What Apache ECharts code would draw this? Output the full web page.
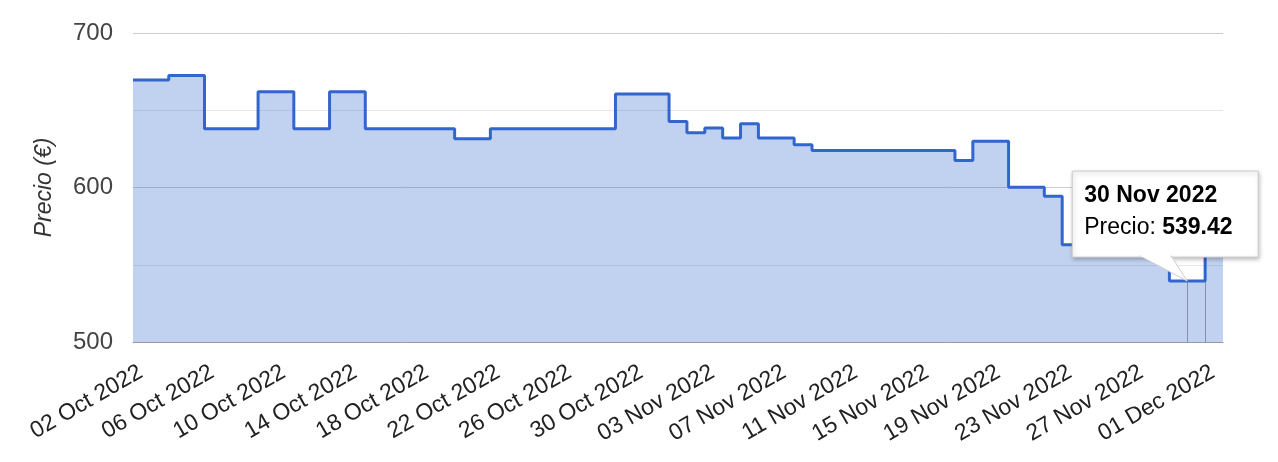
<!DOCTYPE html>
<html>
<head>
<meta charset="utf-8">
<script src="https://cdn.jsdelivr.net/npm/echarts@6/dist/echarts.min.js"></script>
<style>
html,body{margin:0;padding:0;background:#fff;}
#chart{width:1278px;height:462px;}
</style>
</head>
<body>
<div id="chart"></div>
<script>
// Step-change dates (price holds from this date until the next one)
const changeDates = ['2022-10-02','2022-10-04','2022-10-06','2022-10-09','2022-10-11','2022-10-13','2022-10-15',
  '2022-10-20','2022-10-22','2022-10-29','2022-11-01','2022-11-02','2022-11-03','2022-11-04','2022-11-05',
  '2022-11-06','2022-11-08','2022-11-09','2022-11-17','2022-11-18','2022-11-20','2022-11-22','2022-11-23',
  '2022-11-29','2022-12-01','2022-12-02'];
const prices = [669.5,672.5,638,662,638,662,638,
  631.5,638,660.5,642.7,635.5,638.5,632,641.3,
  632,627.7,624,617.5,630,600.2,594.4,563,
  539.42,559,559];
const tickLabels = ['02 Oct 2022','06 Oct 2022','10 Oct 2022','14 Oct 2022','18 Oct 2022','22 Oct 2022',
  '26 Oct 2022','30 Oct 2022','03 Nov 2022','07 Nov 2022','11 Nov 2022','15 Nov 2022','19 Nov 2022',
  '23 Nov 2022','27 Nov 2022','01 Dec 2022'];
const yTickLabels = {500:'500',600:'600',700:'700'};
const startDate = '2022-10-02';
const endDate = '2022-12-02';
const tipDate = '2022-11-30';
const tipNext = '2022-12-01';
const tipTitle = '30 Nov 2022';
const tipLabel = 'Precio: ';
const tipValue = 539.42;
const tipNextValue = 559;

const DAY = 86400000;
const dayOf = s => Math.round((Date.parse(s + 'T00:00:00Z') - Date.parse(startDate + 'T00:00:00Z')) / DAY);
const data = changeDates.map((d, i) => [dayOf(d), prices[i]]);
const FONT = '"Liberation Sans", Arial, Helvetica, sans-serif';

const chart = echarts.init(document.getElementById('chart'), null, {renderer: 'canvas'});
chart.setOption({
  animation: false,
  grid: {left: 133, right: 55, top: 33, bottom: 120},
  xAxis: {
    type: 'value', min: 0, max: dayOf(endDate), interval: 4,
    axisLine: {show: true, lineStyle: {color: '#9a9a9a', width: 1}},
    axisTick: {show: false},
    splitLine: {show: false},
    axisLabel: {
      rotate: 30, margin: 33, padding: [0, -9, 0, 0],
      color: '#222', fontSize: 23, fontFamily: FONT,
      showMaxLabel: false,
      formatter: v => (v % 4 === 0 && tickLabels[v / 4]) ? tickLabels[v / 4] : ''
    }
  },
  yAxis: {
    type: 'value', min: 500, max: 700, interval: 50,
    name: 'Precio (€)', nameLocation: 'middle', nameGap: 77,
    nameTextStyle: {fontStyle: 'italic', fontSize: 23, color: '#333', fontFamily: FONT},
    axisLine: {show: false}, axisTick: {show: false},
    axisLabel: {
      margin: 20, color: '#444', fontSize: 24, fontFamily: FONT,
      formatter: v => yTickLabels[v] || ''
    },
    splitLine: {lineStyle: {color: ['#cccccc', '#e6e6e6'], width: 1}}
  },
  series: [{
    type: 'line', step: 'end', data: data, symbol: 'none',
    lineStyle: {color: '#3366cc', width: 3},
    areaStyle: {color: '#3366cc', opacity: 0.3},
    markLine: {
      silent: true, symbol: 'none', label: {show: false},
      lineStyle: {color: 'rgba(90,90,110,0.55)', width: 1, type: 'solid'},
      data: [
        [{coord: [dayOf(tipDate), 500]}, {coord: [dayOf(tipDate), tipValue]}],
        [{coord: [dayOf(tipNext), 500]}, {coord: [dayOf(tipNext), tipNextValue]}]
      ]
    },
    z: 2
  }]
});

// Tooltip callout anchored at the hovered point (position from the chart's own scales)
const pt = chart.convertToPixel({gridIndex: 0}, [dayOf(tipDate), tipValue]);
const bx = pt[0] - 115, by = pt[1] - 110, bw = 186, bh = 86;
chart.setOption({
  graphic: [{
    type: 'group', z: 100, zlevel: 1,
    children: [
      {type: 'rect', z: 100, zlevel: 1, shape: {x: bx, y: by, width: bw, height: bh},
        style: {fill: '#fff', stroke: '#cccccc', lineWidth: 1,
          shadowBlur: 4, shadowOffsetX: 1, shadowOffsetY: 2, shadowColor: 'rgba(0,0,0,0.25)'}},
      {type: 'polygon', z: 101, zlevel: 1, shape: {points: [[pt[0] - 47, by + bh - 1], [pt[0] - 16, by + bh - 1], [pt[0], pt[1]]]},
        style: {fill: '#fff', stroke: '#cccccc', lineWidth: 1}},
      {type: 'rect', z: 102, zlevel: 1, shape: {x: pt[0] - 46, y: by + bh - 3, width: 29, height: 3},
        style: {fill: '#fff'}},
      {type: 'text', z: 103, zlevel: 1, x: bx + 12, y: by + 25,
        style: {text: tipTitle, font: 'bold 23px ' + FONT, fill: '#000', verticalAlign: 'middle'}},
      {type: 'text', z: 103, zlevel: 1, x: bx + 12, y: by + 57,
        style: {text: '{a|' + tipLabel + '}{b|' + tipValue.toFixed(2) + '}', verticalAlign: 'middle',
          rich: {a: {fontSize: 23, fontFamily: FONT, color: '#000'},
                 b: {fontSize: 23, fontWeight: 'bold', fontFamily: FONT, color: '#000'}}}}
    ]
  }]
});
</script>
</body>
</html>
